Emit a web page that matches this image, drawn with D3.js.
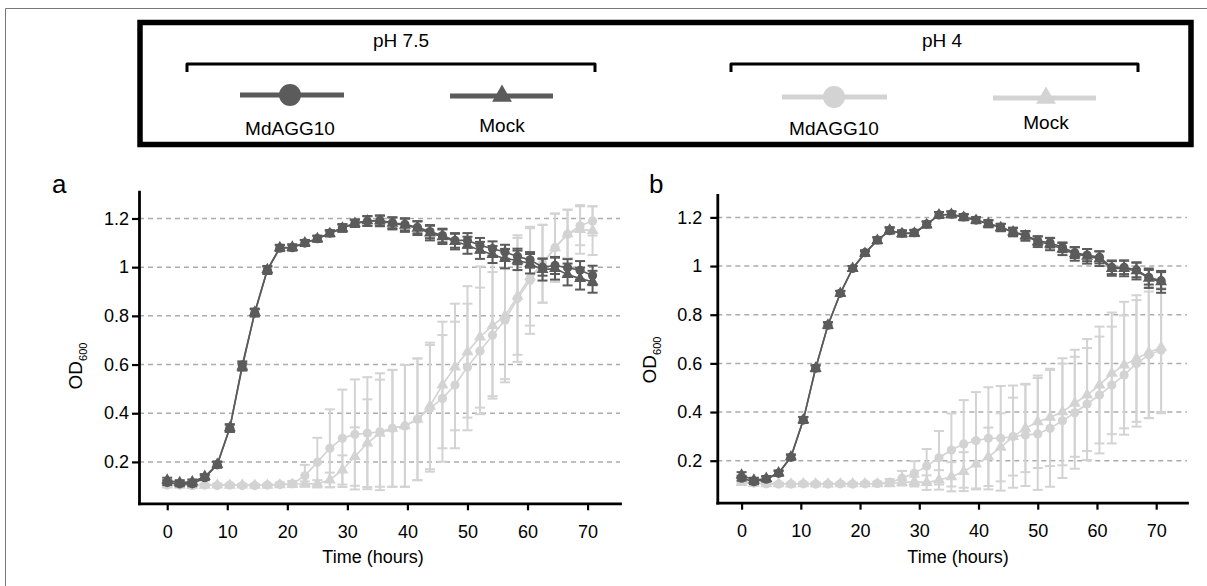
<!DOCTYPE html>
<html>
<head>
<meta charset="utf-8">
<script src="https://cdn.jsdelivr.net/npm/d3@7/dist/d3.min.js"></script>
<style>
  body { margin: 0; background: #fff; }
  svg { display: block; font-family: "Liberation Sans", Arial, sans-serif; }
</style>
</head>
<body>
<div id="chart"></div>
<script>
// sampling times (hours), one reading every ~125 min
const times = [0, 2.08, 4.17, 6.25, 8.33, 10.42, 12.5, 14.58, 16.67, 18.75, 20.83, 22.92, 25, 27.08,
  29.17, 31.25, 33.33, 35.42, 37.5, 39.58, 41.67, 43.75, 45.83, 47.92, 50, 52.08, 54.17, 56.25,
  58.33, 60.42, 62.5, 64.58, 66.67, 68.75, 70.83];
const xTicks = [0, 10, 20, 30, 40, 50, 60, 70];
const yTicks = [0.2, 0.4, 0.6, 0.8, 1, 1.2];

// panel a
const aMd75 = [0.115, 0.11, 0.11, 0.135, 0.188, 0.338, 0.598, 0.812, 0.987, 1.078, 1.08, 1.099, 1.117, 1.14,
  1.162, 1.18, 1.189, 1.192, 1.182, 1.176, 1.164, 1.146, 1.13, 1.11, 1.11, 1.09, 1.076, 1.062,
  1.044, 1.03, 1.0, 1.007, 0.998, 0.987, 0.966];
const aMd75Err = [0.01, 0.01, 0.01, 0.01, 0.012, 0.015, 0.015, 0.015, 0.015, 0.012, 0.012, 0.012, 0.012, 0.012,
  0.015, 0.015, 0.02, 0.02, 0.022, 0.025, 0.025, 0.027, 0.028, 0.03, 0.03, 0.03, 0.03, 0.03,
  0.032, 0.032, 0.035, 0.035, 0.035, 0.038, 0.04];
const aMock75 = [0.125, 0.115, 0.118, 0.14, 0.19, 0.34, 0.59, 0.815, 0.99, 1.08, 1.082, 1.1, 1.117, 1.138,
  1.16, 1.18, 1.19, 1.19, 1.18, 1.172, 1.16, 1.14, 1.125, 1.105, 1.09, 1.069, 1.052, 1.035,
  1.028, 1.014, 0.99, 0.994, 0.97, 0.953, 0.94];
const aMock75Err = [0.01, 0.01, 0.01, 0.01, 0.012, 0.015, 0.015, 0.015, 0.015, 0.012, 0.012, 0.012, 0.012, 0.012,
  0.015, 0.015, 0.02, 0.022, 0.025, 0.027, 0.028, 0.03, 0.03, 0.032, 0.035, 0.035, 0.035, 0.04,
  0.04, 0.04, 0.045, 0.045, 0.045, 0.045, 0.045];
const aMd4 = [0.105, 0.105, 0.102, 0.105, 0.103, 0.105, 0.103, 0.103, 0.105, 0.107, 0.11, 0.143, 0.199, 0.256,
  0.297, 0.313, 0.318, 0.324, 0.338, 0.348, 0.375, 0.42, 0.461, 0.516, 0.59, 0.656, 0.72, 0.782,
  0.871, 0.946, 1.014, 1.08, 1.135, 1.17, 1.19];
const aMd4Err = [0.005, 0.005, 0.005, 0.005, 0.005, 0.005, 0.005, 0.005, 0.005, 0.008, 0.012, 0.045, 0.1, 0.16,
  0.2, 0.226, 0.23, 0.24, 0.24, 0.25, 0.25, 0.26, 0.26, 0.26, 0.26, 0.26, 0.26, 0.255,
  0.26, 0.22, 0.16, 0.14, 0.1, 0.08, 0.06];
const aMock4 = [0.105, 0.104, 0.103, 0.104, 0.105, 0.104, 0.105, 0.104, 0.104, 0.106, 0.108, 0.11, 0.11, 0.126,
  0.167, 0.222, 0.277, 0.318, 0.338, 0.348, 0.375, 0.43, 0.516, 0.59, 0.652, 0.713, 0.76, 0.8,
  0.88, 0.96, 1.014, 1.08, 1.137, 1.155, 1.15];
const aMock4Err = [0.005, 0.005, 0.005, 0.005, 0.005, 0.005, 0.005, 0.005, 0.005, 0.006, 0.008, 0.01, 0.015, 0.03,
  0.06, 0.12, 0.18, 0.22, 0.24, 0.25, 0.25, 0.26, 0.26, 0.26, 0.27, 0.29, 0.29, 0.26,
  0.24, 0.2, 0.16, 0.14, 0.1, 0.1, 0.1];

// panel b
const bMd75 = [0.128, 0.114, 0.124, 0.148, 0.214, 0.367, 0.58, 0.757, 0.888, 0.99, 1.055, 1.107, 1.145, 1.135,
  1.137, 1.172, 1.21, 1.213, 1.202, 1.189, 1.175, 1.159, 1.141, 1.127, 1.104, 1.096, 1.077, 1.055,
  1.045, 1.036, 0.995, 0.995, 0.984, 0.954, 0.94];
const bMd75Err = [0.01, 0.01, 0.01, 0.01, 0.01, 0.012, 0.012, 0.012, 0.01, 0.01, 0.01, 0.012, 0.012, 0.012,
  0.012, 0.012, 0.012, 0.012, 0.012, 0.012, 0.012, 0.015, 0.015, 0.015, 0.018, 0.02, 0.02, 0.022,
  0.025, 0.025, 0.028, 0.028, 0.03, 0.03, 0.035];
const bMock75 = [0.141, 0.12, 0.127, 0.15, 0.216, 0.368, 0.58, 0.757, 0.888, 0.99, 1.052, 1.105, 1.148, 1.133,
  1.135, 1.17, 1.21, 1.212, 1.2, 1.188, 1.174, 1.158, 1.14, 1.124, 1.1, 1.09, 1.07, 1.05,
  1.04, 1.03, 0.99, 0.99, 0.98, 0.95, 0.935];
const bMock75Err = [0.012, 0.01, 0.01, 0.01, 0.01, 0.012, 0.012, 0.012, 0.01, 0.01, 0.01, 0.012, 0.012, 0.012,
  0.012, 0.012, 0.012, 0.012, 0.012, 0.012, 0.015, 0.015, 0.018, 0.02, 0.022, 0.025, 0.025, 0.028,
  0.03, 0.03, 0.03, 0.032, 0.035, 0.04, 0.045];
const bMd4 = [0.12, 0.108, 0.105, 0.104, 0.104, 0.105, 0.104, 0.104, 0.105, 0.104, 0.105, 0.106, 0.11, 0.128,
  0.148, 0.178, 0.212, 0.244, 0.269, 0.282, 0.292, 0.292, 0.299, 0.306, 0.31, 0.333, 0.364, 0.397,
  0.433, 0.47, 0.511, 0.552, 0.6, 0.635, 0.655];
const bMd4Err = [0.008, 0.005, 0.005, 0.005, 0.005, 0.005, 0.005, 0.005, 0.005, 0.005, 0.006, 0.008, 0.015, 0.03,
  0.05, 0.07, 0.11, 0.15, 0.18, 0.2, 0.21, 0.215, 0.21, 0.21, 0.23, 0.24, 0.235, 0.23,
  0.23, 0.24, 0.24, 0.245, 0.26, 0.26, 0.255];
const bMock4 = [0.11, 0.106, 0.105, 0.105, 0.104, 0.105, 0.105, 0.104, 0.105, 0.105, 0.105, 0.105, 0.106, 0.11,
  0.114, 0.11, 0.121, 0.134, 0.155, 0.186, 0.216, 0.255, 0.299, 0.333, 0.36, 0.378, 0.401, 0.436,
  0.47, 0.511, 0.559, 0.593, 0.62, 0.645, 0.665];
const bMock4Err = [0.006, 0.005, 0.005, 0.005, 0.005, 0.005, 0.005, 0.005, 0.005, 0.005, 0.005, 0.006, 0.008, 0.01,
  0.02, 0.03, 0.04, 0.06, 0.08, 0.1, 0.12, 0.14, 0.16, 0.18, 0.19, 0.2, 0.22, 0.22,
  0.23, 0.24, 0.25, 0.26, 0.26, 0.27, 0.27];

const DARK = "#5b5b5b", LIGHT = "#d3d3d3";

const legendGroups = ["pH 7.5", "pH 4"];
const legendItems = [
  { label: "MdAGG10", color: DARK, shape: "circle" },
  { label: "Mock", color: DARK, shape: "triangle" },
  { label: "MdAGG10", color: LIGHT, shape: "circle" },
  { label: "Mock", color: LIGHT, shape: "triangle" }
];

const W = 1207, H = 586;
const svg = d3.select("#chart").append("svg").attr("width", W).attr("height", H);

// outer figure frame (only top and left visible)
svg.append("path").attr("d", "M5.5,586 V8.5 H1207")
  .attr("fill", "none").attr("stroke", "#777").attr("stroke-width", 1);

// legend box
const lg = svg.append("g");
lg.append("rect").attr("x", 140).attr("y", 22.5).attr("width", 1051).attr("height", 122)
  .attr("fill", "none").attr("stroke", "#000").attr("stroke-width", 5.5);

const groupPos = [
  { cx: 401, x0: 187, x1: 595, items: [{ cx: 290, lx0: 240, lx1: 344, ly: 95, ty: 135 }, { cx: 502, lx0: 450, lx1: 553, ly: 96, ty: 131.5 }] },
  { cx: 942, x0: 731, x1: 1138, items: [{ cx: 834, lx0: 782, lx1: 887, ly: 97, ty: 135 }, { cx: 1046, lx0: 993, lx1: 1096, ly: 98, ty: 128.5 }] }
];
legendGroups.forEach((name, gi) => {
  const p = groupPos[gi];
  lg.append("text").attr("x", p.cx).attr("y", 47).attr("text-anchor", "middle")
    .attr("font-size", 19).text(name);
  lg.append("path").attr("d", `M${p.x0},72 V64 H${p.x1} V72`)
    .attr("fill", "none").attr("stroke", "#000").attr("stroke-width", 3).attr("stroke-linejoin", "round");
  p.items.forEach((ip, ii) => {
    const it = legendItems[gi * 2 + ii];
    lg.append("line").attr("x1", ip.lx0).attr("x2", ip.lx1).attr("y1", ip.ly).attr("y2", ip.ly)
      .attr("stroke", it.color).attr("stroke-width", 5);
    if (it.shape === "circle") {
      lg.append("circle").attr("cx", ip.cx).attr("cy", ip.ly).attr("r", 11).attr("fill", it.color);
    } else {
      lg.append("path").attr("d", d3.symbol(d3.symbolTriangle, 170)())
        .attr("transform", `translate(${ip.cx},${ip.ly})`).attr("fill", it.color);
    }
    lg.append("text").attr("x", ip.cx).attr("y", ip.ty).attr("text-anchor", "middle")
      .attr("font-size", 19).text(it.label);
  });
});

function drawPanel(cfg) {
  const g = svg.append("g");
  const x = d3.scaleLinear().domain(cfg.xDomain).range([cfg.left, cfg.right]);
  const y = d3.scaleLinear().domain(cfg.yDomain).range([cfg.bottom, cfg.top]);

  // grid
  g.append("g").selectAll("line").data(yTicks).join("line")
    .attr("x1", cfg.left).attr("x2", cfg.right)
    .attr("y1", d => y(d)).attr("y2", d => y(d))
    .attr("stroke", "#acacac").attr("stroke-width", 1.5).attr("stroke-dasharray", "5,4");

  const series = [
    { v: cfg.md4, e: cfg.md4Err, color: LIGHT, shape: "circle" },
    { v: cfg.mock4, e: cfg.mock4Err, color: LIGHT, shape: "triangle" },
    { v: cfg.md75, e: cfg.md75Err, color: DARK, shape: "circle" },
    { v: cfg.mock75, e: cfg.mock75Err, color: DARK, shape: "triangle" }
  ];
  const line = d3.line().x((d, i) => x(times[i])).y(d => y(d));

  series.forEach(s => {
    const sg = g.append("g");
    const pts = s.v.map((v, i) => ({ t: times[i], v: v, e: s.e[i] }));
    const eb = sg.append("g").attr("stroke", s.color).attr("stroke-width", 2);
    pts.forEach(p => {
      const yt = y(p.v + p.e), yb = y(p.v - p.e), xx = x(p.t);
      eb.append("line").attr("x1", xx).attr("x2", xx).attr("y1", yt).attr("y2", yb);
      eb.append("line").attr("x1", xx - 5).attr("x2", xx + 5).attr("y1", yt).attr("y2", yt);
      eb.append("line").attr("x1", xx - 5).attr("x2", xx + 5).attr("y1", yb).attr("y2", yb);
    });
    sg.append("path").datum(s.v).attr("d", line)
      .attr("fill", "none").attr("stroke", s.color).attr("stroke-width", 1.6);
    if (s.shape === "circle") {
      sg.selectAll("circle").data(pts).join("circle")
        .attr("cx", d => x(d.t)).attr("cy", d => y(d.v)).attr("r", 4.6).attr("fill", s.color);
    } else {
      sg.selectAll("path.m").data(pts).join("path").attr("class", "m")
        .attr("d", d3.symbol(d3.symbolTriangle, 62)())
        .attr("transform", d => `translate(${x(d.t)},${y(d.v)})`).attr("fill", s.color);
    }
  });

  // axes
  const fmt = d => d === 1 ? "1" : d3.format(".1f")(d);
  const ya = g.append("g").attr("transform", `translate(${cfg.left},0)`)
    .call(d3.axisLeft(y).tickValues(yTicks).tickFormat(fmt).tickSize(7).tickSizeOuter(0).tickPadding(cfg.yPad));
  const xa = g.append("g").attr("transform", `translate(0,${cfg.bottom})`)
    .call(d3.axisBottom(x).tickValues(xTicks).tickSize(7).tickSizeOuter(0).tickPadding(15));
  [ya, xa].forEach(a => {
    a.select(".domain").attr("stroke-width", 2.8).attr("stroke-linecap", "square");
    a.selectAll(".tick line").attr("stroke-width", 2.2);
    a.selectAll("text").attr("font-size", 18).attr("font-family", "Liberation Sans, Arial, sans-serif").attr("fill", "#000");
  });

  g.append("text").attr("x", cfg.titleX).attr("y", 563).attr("text-anchor", "middle")
    .attr("font-size", 18).text("Time (hours)");

  const yl = g.append("text").attr("transform", `translate(${cfg.ylabX},${cfg.ylabY}) rotate(-90)`)
    .attr("text-anchor", "middle").attr("font-size", 19);
  yl.append("tspan").text("OD");
  yl.append("tspan").attr("font-size", 11).attr("dy", 5).text("600");

  svg.append("text").attr("x", cfg.letterX).attr("y", 193).attr("font-size", 26).text(cfg.letter);
}

drawPanel({
  letter: "a", letterX: 52, left: 139, right: 620, top: 191.7, bottom: 503.3,
  xDomain: [-4.7, 75.4], yDomain: [0.03, 1.31], yPad: 3, titleX: 373, ylabX: 82, ylabY: 366,
  md75: aMd75, md75Err: aMd75Err, mock75: aMock75, mock75Err: aMock75Err,
  md4: aMd4, md4Err: aMd4Err, mock4: aMock4, mock4Err: aMock4Err
});
drawPanel({
  letter: "b", letterX: 649, left: 717.3, right: 1187, top: 195, bottom: 502.7,
  xDomain: [-4.1, 75.2], yDomain: [0.0274, 1.292], yPad: 8, titleX: 958, ylabX: 656, ylabY: 360,
  md75: bMd75, md75Err: bMd75Err, mock75: bMock75, mock75Err: bMock75Err,
  md4: bMd4, md4Err: bMd4Err, mock4: bMock4, mock4Err: bMock4Err
});
</script>
</body>
</html>
